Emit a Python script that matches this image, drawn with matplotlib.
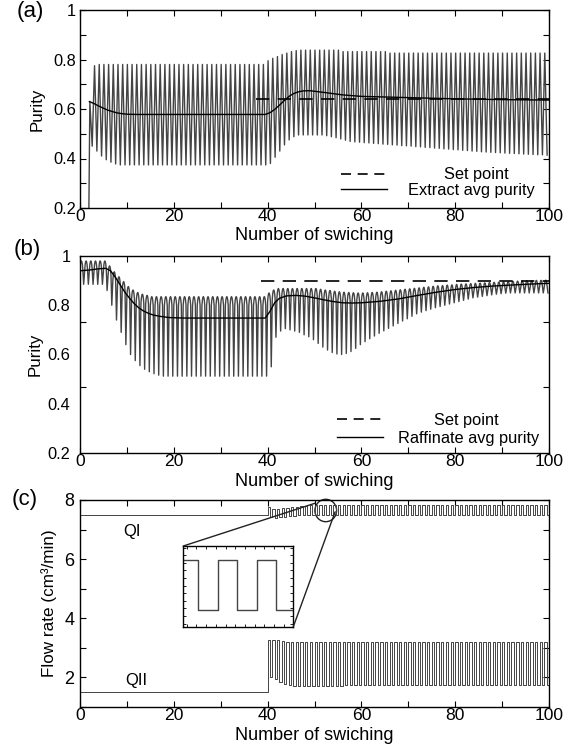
import numpy as np
import matplotlib
matplotlib.use("Agg")
import matplotlib.pyplot as plt
from matplotlib.lines import Line2D
from matplotlib.patches import Ellipse, ConnectionPatch

plt.rcParams['font.family'] = ['Liberation Sans', 'DejaVu Sans']

# ---------------- data ----------------
# (a) Extract purity: per switching cycle peak / trough values (cycles 2..99)
a_cycle_start = 2
a_start_x, a_start_y = 1.8, 0.0
a_peak = [0.63, 0.775,
          0.78, 0.78, 0.78, 0.78, 0.78, 0.78, 0.78, 0.78, 0.78, 0.78, 0.78, 0.78,
          0.78, 0.78, 0.78, 0.78, 0.78, 0.78, 0.78, 0.78, 0.78, 0.78, 0.78, 0.78,
          0.78, 0.78, 0.78, 0.78, 0.78, 0.78, 0.78, 0.78, 0.78, 0.78, 0.78, 0.78,
          0.795, 0.805, 0.812, 0.82, 0.826, 0.832, 0.836,
          0.838, 0.838, 0.838, 0.838, 0.838, 0.838, 0.838, 0.838, 0.838,
          0.832, 0.832, 0.832, 0.832, 0.832, 0.832, 0.832, 0.832, 0.832, 0.832,
          0.826, 0.826, 0.826, 0.826, 0.826, 0.826, 0.826, 0.826, 0.826, 0.826,
          0.826, 0.826, 0.826, 0.826, 0.826, 0.826, 0.826, 0.826, 0.826, 0.826,
          0.826, 0.826, 0.826, 0.826, 0.826, 0.826, 0.826, 0.826, 0.826, 0.826,
          0.826, 0.826, 0.826, 0.826]
a_trough = [0.45, 0.43, 0.41, 0.395, 0.385, 0.378,
            0.374, 0.374, 0.374, 0.374, 0.374, 0.374, 0.374, 0.374, 0.374, 0.374,
            0.374, 0.374, 0.374, 0.374, 0.374, 0.374, 0.374, 0.374, 0.374, 0.374,
            0.374, 0.374, 0.374, 0.374, 0.374, 0.374, 0.374, 0.374, 0.374, 0.374,
            0.374, 0.374,
            0.38, 0.405, 0.43, 0.455, 0.475, 0.488,
            0.495, 0.495, 0.495, 0.495, 0.495, 0.495,
            0.492, 0.488, 0.484, 0.479, 0.474, 0.469, 0.467, 0.466, 0.464, 0.463,
            0.461, 0.46, 0.458, 0.457, 0.455, 0.454, 0.452, 0.451, 0.45, 0.448,
            0.447, 0.445, 0.444, 0.442, 0.441, 0.439, 0.438, 0.436, 0.435, 0.433,
            0.432, 0.43, 0.429, 0.427, 0.426, 0.425, 0.424, 0.423, 0.422, 0.421,
            0.42, 0.419, 0.418, 0.417, 0.416, 0.415, 0.415, 0.414]
a_avg_x = [2, 3, 4, 5, 6, 7, 8, 9, 10, 12, 39.5, 40.5, 41.5, 42.5, 43.5, 44.5,
           45.5, 46.5, 47.5, 49, 52, 56, 60, 70, 80, 90, 100]
a_avg_y = [0.63, 0.622, 0.612, 0.603, 0.595, 0.589, 0.584, 0.581, 0.579, 0.578,
           0.578, 0.585, 0.598, 0.615, 0.633, 0.65, 0.662, 0.669, 0.673, 0.674,
           0.667, 0.657, 0.651, 0.646, 0.641, 0.638, 0.636]
a_set_x = [37.5, 100]
a_set_y = [0.64, 0.64]

# (b) Raffinate purity: per switching cycle peak / trough values (cycles 0..99)
b_cycle_start = 0
b_peak = [0.98, 0.98, 0.98, 0.98, 0.98, 0.98,
          0.96, 0.936, 0.916, 0.896, 0.876, 0.862, 0.852, 0.845, 0.84,
          0.835, 0.835, 0.835, 0.835, 0.835, 0.835, 0.835, 0.835, 0.835, 0.835,
          0.835, 0.835, 0.835, 0.835, 0.835, 0.835, 0.835, 0.835, 0.835, 0.835,
          0.835, 0.835, 0.835, 0.835, 0.835,
          0.85, 0.862,
          0.868, 0.868, 0.868, 0.868, 0.868, 0.868, 0.868, 0.868, 0.868,
          0.865, 0.862, 0.86, 0.857, 0.855, 0.853, 0.852, 0.851, 0.85, 0.85,
          0.851, 0.852, 0.853, 0.855, 0.857, 0.859, 0.861, 0.863, 0.865, 0.867,
          0.869, 0.871, 0.873, 0.875, 0.877, 0.879, 0.88, 0.882, 0.883, 0.885,
          0.886, 0.887, 0.888, 0.889, 0.89, 0.891, 0.892, 0.893, 0.894, 0.895,
          0.896, 0.897, 0.898, 0.899, 0.9, 0.9, 0.901, 0.901, 0.902]
b_trough = [0.885, 0.885, 0.885, 0.885, 0.885,
            0.86, 0.80, 0.74, 0.69, 0.64, 0.60, 0.575, 0.555, 0.54, 0.53, 0.522, 0.516,
            0.512, 0.512, 0.512, 0.512, 0.512, 0.512, 0.512, 0.512, 0.512, 0.512,
            0.512, 0.512, 0.512, 0.512, 0.512, 0.512, 0.512, 0.512, 0.512, 0.512,
            0.512, 0.512, 0.512,
            0.55, 0.67, 0.695, 0.705, 0.70, 0.695, 0.69, 0.68, 0.672, 0.66,
            0.645, 0.63, 0.618, 0.608, 0.602, 0.60, 0.604, 0.612, 0.625, 0.64,
            0.652, 0.664, 0.675, 0.686, 0.696, 0.706, 0.716, 0.726, 0.736, 0.745,
            0.755, 0.765, 0.772, 0.778, 0.784, 0.79, 0.795, 0.80, 0.805, 0.81,
            0.815, 0.82, 0.825, 0.83, 0.833, 0.836, 0.839, 0.842, 0.845, 0.847,
            0.849,
            0.85, 0.85, 0.85, 0.85, 0.85, 0.85, 0.85, 0.85, 0.85]
b_avg_x = [0, 2, 4, 5.5, 6.5, 7.5, 8.5, 9.5, 10.5, 11.5, 12.5, 13.5, 14.5, 15.5,
           17, 19, 22, 39.5, 40.5, 41.5, 42.5, 44, 46, 48, 50, 52, 54, 56, 58, 60,
           64, 68, 72, 76, 80, 84, 88, 92, 96, 100]
b_avg_y = [0.94, 0.943, 0.948, 0.95, 0.94, 0.915, 0.885, 0.855, 0.83, 0.808,
           0.79, 0.777, 0.768, 0.761, 0.755, 0.75, 0.748, 0.748, 0.775, 0.81,
           0.828, 0.838, 0.84, 0.837, 0.83, 0.822, 0.815, 0.81, 0.809, 0.81,
           0.816, 0.826, 0.84, 0.853, 0.864, 0.872, 0.878, 0.882, 0.886, 0.889]
b_set_x = [38.5, 100]
b_set_y = [0.9, 0.9]

# (c) Flow rates: constant before switching-on, square wave per cycle afterwards
switch_on = 40
x_end = 100
qi_base = 7.5
qii_base = 1.5
qi_high = [7.77, 7.68, 7.70, 7.72, 7.74, 7.76, 7.78, 7.80, 7.81] + [7.82] * 51
qi_low = [7.42, 7.40, 7.42, 7.44, 7.46, 7.47, 7.48] + [7.49] * 53
qii_high = [3.28, 3.28, 3.25, 3.22] + [3.19] * 56
qii_low = [2.0, 1.95, 1.85, 1.78, 1.74] + [1.71] * 11 + [1.73] * 44

x_ticks = [0, 20, 40, 60, 80, 100]
x_minor = [10, 30, 50, 70, 90]

# ---------------- styling ----------------
OSC = '#444444'
FS_XT = 12.6
FS_LAB = 13

W, H = 571, 749
fig = plt.figure(figsize=(W / 100, H / 100), dpi=100)

def fax(l, t, r, b):
    return [l / W, 1 - b / H, (r - l) / W, (b - t) / H]

ax_a = fig.add_axes(fax(80, 10, 549, 208))
ax_b = fig.add_axes(fax(80, 256, 549, 453))
ax_c = fig.add_axes(fax(80, 500, 549, 707))

def style(ax, label_drop_px, height_px):
    for s in ax.spines.values():
        s.set_linewidth(1.0)
    ax.set_xlim(0, 100)
    ax.set_xticks(x_ticks)
    ax.set_xticks(x_minor, minor=True)
    ax.tick_params(which='both', direction='in', top=True, right=True,
                   length=4, width=0.8)
    ax.tick_params(axis='x', labelsize=FS_XT, pad=1)
    ax.set_xlabel('Number of swiching', fontsize=FS_LAB)
    ax.xaxis.set_label_coords(0.5, -label_drop_px / height_px)

# ---- (a)
xs, ys = [a_start_x], [a_start_y]
for i, (p, t) in enumerate(zip(a_peak, a_trough)):
    k = a_cycle_start + i
    xs += [k + 0.1, k + 0.6]
    ys += [p, t]
ax_a.plot(xs, ys, color=OSC, lw=1.0)
ax_a.plot(a_avg_x, a_avg_y, color='black', lw=1.0)
ax_a.plot(a_set_x, a_set_y, color='black', lw=1.2, dashes=(8, 5))
style(ax_a, 19.5, 198)
ax_a.set_ylim(0.2, 1.0)
ax_a.set_yticks([0.2, 0.4, 0.6, 0.8, 1.0])
ax_a.set_yticklabels(['0.2', '0.4', '0.6', '0.8', '1'])
ax_a.set_yticks([0.3, 0.5, 0.7, 0.9], minor=True)
ax_a.tick_params(axis='y', labelsize=11.8, pad=3)
ax_a.set_ylabel('Purity', fontsize=12.2)
ax_a.yaxis.set_label_coords(-0.075, 0.5)
h1 = Line2D([], [], color='black', lw=1.2, dashes=(6, 4))
h2 = Line2D([], [], color='black', lw=1.0)
ax_a.legend([h1, h2], ['        Set point', 'Extract avg purity'],
            loc='lower right', bbox_to_anchor=(0.97, 0.05), frameon=False,
            fontsize=11.8, handlelength=2.8, handletextpad=1.3,
            labelspacing=0.05, borderpad=0, borderaxespad=0)

# ---- (b)
xs, ys = [], []
for i, (p, t) in enumerate(zip(b_peak, b_trough)):
    k = b_cycle_start + i
    d = min(0.035, 0.5 * (p - t))
    j = p - d
    xs += [k, k + 0.1, k + 0.2, k + 0.3, k + 0.4, k + 0.5, k + 0.6, k + 0.78]
    ys += [j, p - 0.4 * d, p - 0.1 * d, p, p - 0.1 * d, p - 0.4 * d, j, t]
ax_b.plot(xs, ys, color=OSC, lw=1.0)
ax_b.plot(b_avg_x, b_avg_y, color='black', lw=1.0)
ax_b.plot(b_set_x, b_set_y, color='black', lw=1.2, dashes=(8, 5))
style(ax_b, 19.5, 197)
ax_b.set_ylim(0.2, 1.0)
ax_b.set_yticks([0.2, 0.4, 0.6, 0.8, 1.0])
ax_b.set_yticklabels(['0.2', '0.4', '0.6', '0.8', '1'])
ax_b.set_yticks([0.2 + 0.8 / 3, 0.2 + 1.6 / 3], minor=True)
ax_b.tick_params(axis='y', which='major', length=0, labelsize=11.8, pad=7)
ax_b.set_ylabel('Purity', fontsize=12.2)
ax_b.yaxis.set_label_coords(-0.079, 0.5)
ax_b.legend([h1, h2], ['        Set point', 'Raffinate avg purity'],
            loc='lower right', bbox_to_anchor=(0.98, 0.035), frameon=False,
            fontsize=11.8, handlelength=2.8, handletextpad=0.95,
            labelspacing=0.2, borderpad=0, borderaxespad=0)

# ---- (c)
def square(base, highs, lows):
    xs, ys = [0, switch_on], [base, base]
    for i, (h, l) in enumerate(zip(highs, lows)):
        k = switch_on + i
        xs += [k, k + 0.5]
        ys += [h, l]
    xs.append(x_end)
    ys.append(lows[-1])
    return xs, ys

qx1, qy1 = square(qi_base, qi_high, qi_low)
qx2, qy2 = square(qii_base, qii_high, qii_low)
QC = '#444444'
ax_c.plot(qx1, qy1, color=QC, lw=0.7, drawstyle='steps-post')
ax_c.plot(qx2, qy2, color=QC, lw=0.7, drawstyle='steps-post')
style(ax_c, 19.5, 207)
ax_c.set_ylim(1, 8)
ax_c.set_yticks([2, 4, 6, 8])
ax_c.set_yticks([1, 3, 5, 7], minor=True)
ax_c.tick_params(axis='y', labelsize=13, pad=4)
ax_c.set_ylabel('Flow rate (cm³/min)', fontsize=12.3)
ax_c.yaxis.set_label_coords(-0.049, 0.5)
ax_c.text(11.1, 6.92, 'QI', fontsize=12, ha='center', va='center')
ax_c.text(12.1, 1.88, 'QII', fontsize=12, ha='center', va='center')

circ = Ellipse((52.4, 7.645), 4.63, 0.757, fill=False, lw=1.0,
               ec='#222222', clip_on=False)
ax_c.add_patch(circ)

ins = fig.add_axes(fax(183.3, 546, 293.3, 626.7))
ins.plot(qx1, qy1, color=QC, lw=1.0, drawstyle='steps-post')
ins.set_xlim(51.11, 53.95)
ins.set_ylim(7.38, 7.91)
ins.set_xticks(np.arange(51.2, 53.95, 0.25))
ins.set_yticks(np.arange(7.40, 7.91, 0.05))
ins.tick_params(which='both', direction='in', top=True, right=True,
                length=2, width=0.6, labelbottom=False, labelleft=False)
for s in ins.spines.values():
    s.set_linewidth(1.0)

for xyA, xyB in [((0, 1), (50.1, 7.89)), ((1, 0), (54.4, 7.6))]:
    con = ConnectionPatch(xyA=xyA, coordsA=ins.transAxes, xyB=xyB,
                          coordsB=ax_c.transData, color='#222222', lw=1.0)
    fig.add_artist(con)

fig.text(30 / W, 1 - 12 / H, '(a)', fontsize=16, ha='center', va='center')
fig.text(27 / W, 1 - 249 / H, '(b)', fontsize=16, ha='center', va='center')
fig.text(25 / W, 1 - 500 / H, '(c)', fontsize=16, ha='center', va='center')

fig.savefig('out.png', dpi=100)
